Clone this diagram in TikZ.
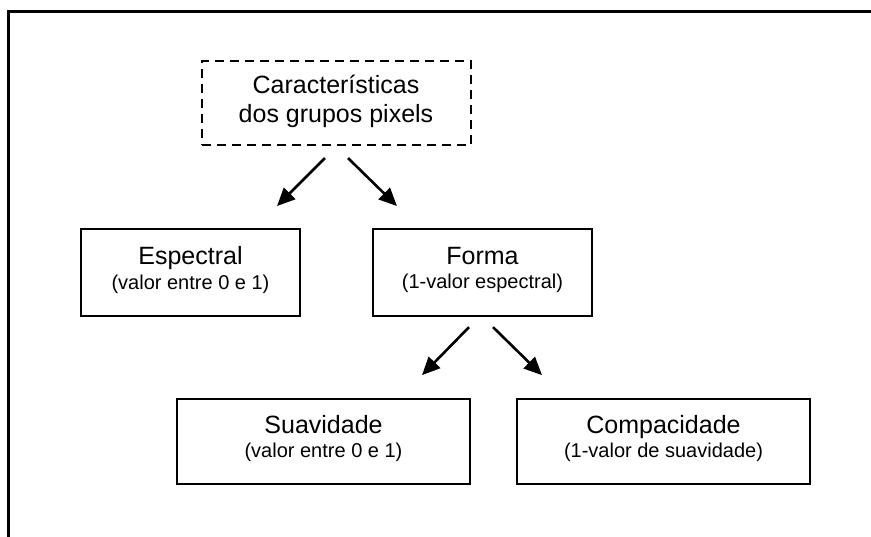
\documentclass[tikz,border=0pt]{standalone}
\usepackage{fontspec}
\setmainfont{Liberation Sans}
\usetikzlibrary{calc,arrows.meta}
\begin{document}
\begin{tikzpicture}[x=1pt,y=-1pt,
  box/.style={draw=black,line width=2.3pt,rectangle,inner sep=0pt},
  dbox/.style={box,line width=2.1pt,dash pattern=on 9pt off 6pt},
  big/.style={inner sep=0pt,anchor=base,font=\fontsize{25}{29}\selectfont},
  small/.style={inner sep=0pt,anchor=base,font=\fontsize{20}{24}\selectfont},
  arr/.style={line width=2.6pt,-{Triangle[length=18pt,width=16pt]}},
  frame/.style={line width=3pt}]
\useasboundingbox (0,0) rectangle (871,537);
% outer frame (top and left edges)
\coordinate (fl) at (8,537);
\coordinate (fc) at (8,12);
\coordinate (fr) at (871,12);
\draw[frame] (fl) -- (fc) -- (fr);
% boxes
\node[dbox,minimum width=269pt,minimum height=84pt] (top) at (336.5,103) {};
\node[box,minimum width=219pt,minimum height=87pt] (esp) at (190.5,272.5) {};
\node[box,minimum width=219pt,minimum height=87pt] (forma) at (482.5,272.5) {};
\node[box,minimum width=293pt,minimum height=85pt] (suav) at (323.5,441.5) {};
\node[box,minimum width=293pt,minimum height=85pt] (comp) at (663.5,441.5) {};
% texts
\node[big] (t1) at (336,94) {Características};
\node[big] (t2) at (336,123) {dos grupos pixels};
\node[big] (e1) at (190.5,265) {Espectral};
\node[small] (e2) at (190.5,290) {(valor entre 0 e 1)};
\node[big] (f1) at (482.5,265) {Forma};
\node[small] (f2) at (482.5,289) {(1-valor espectral)};
\node[big] (s1) at (323.5,434) {Suavidade};
\node[small] (s2) at (323.5,458) {(valor entre 0 e 1)};
\node[big] (c1) at (663.5,434) {Compacidade};
\node[small] (c2) at (663.5,458) {(1-valor de suavidade)};
% arrows
\draw[arr] ($(top.south)+(-11.5,12)$) -- ++(-48,48);
\draw[arr] ($(top.south)+(11.5,12)$) -- ++(49,48);
\draw[arr] ($(forma.south)+(-13.5,10)$) -- ++(-47,48);
\draw[arr] ($(forma.south)+(10.5,10)$) -- ++(49,48);
\end{tikzpicture}
\end{document}
